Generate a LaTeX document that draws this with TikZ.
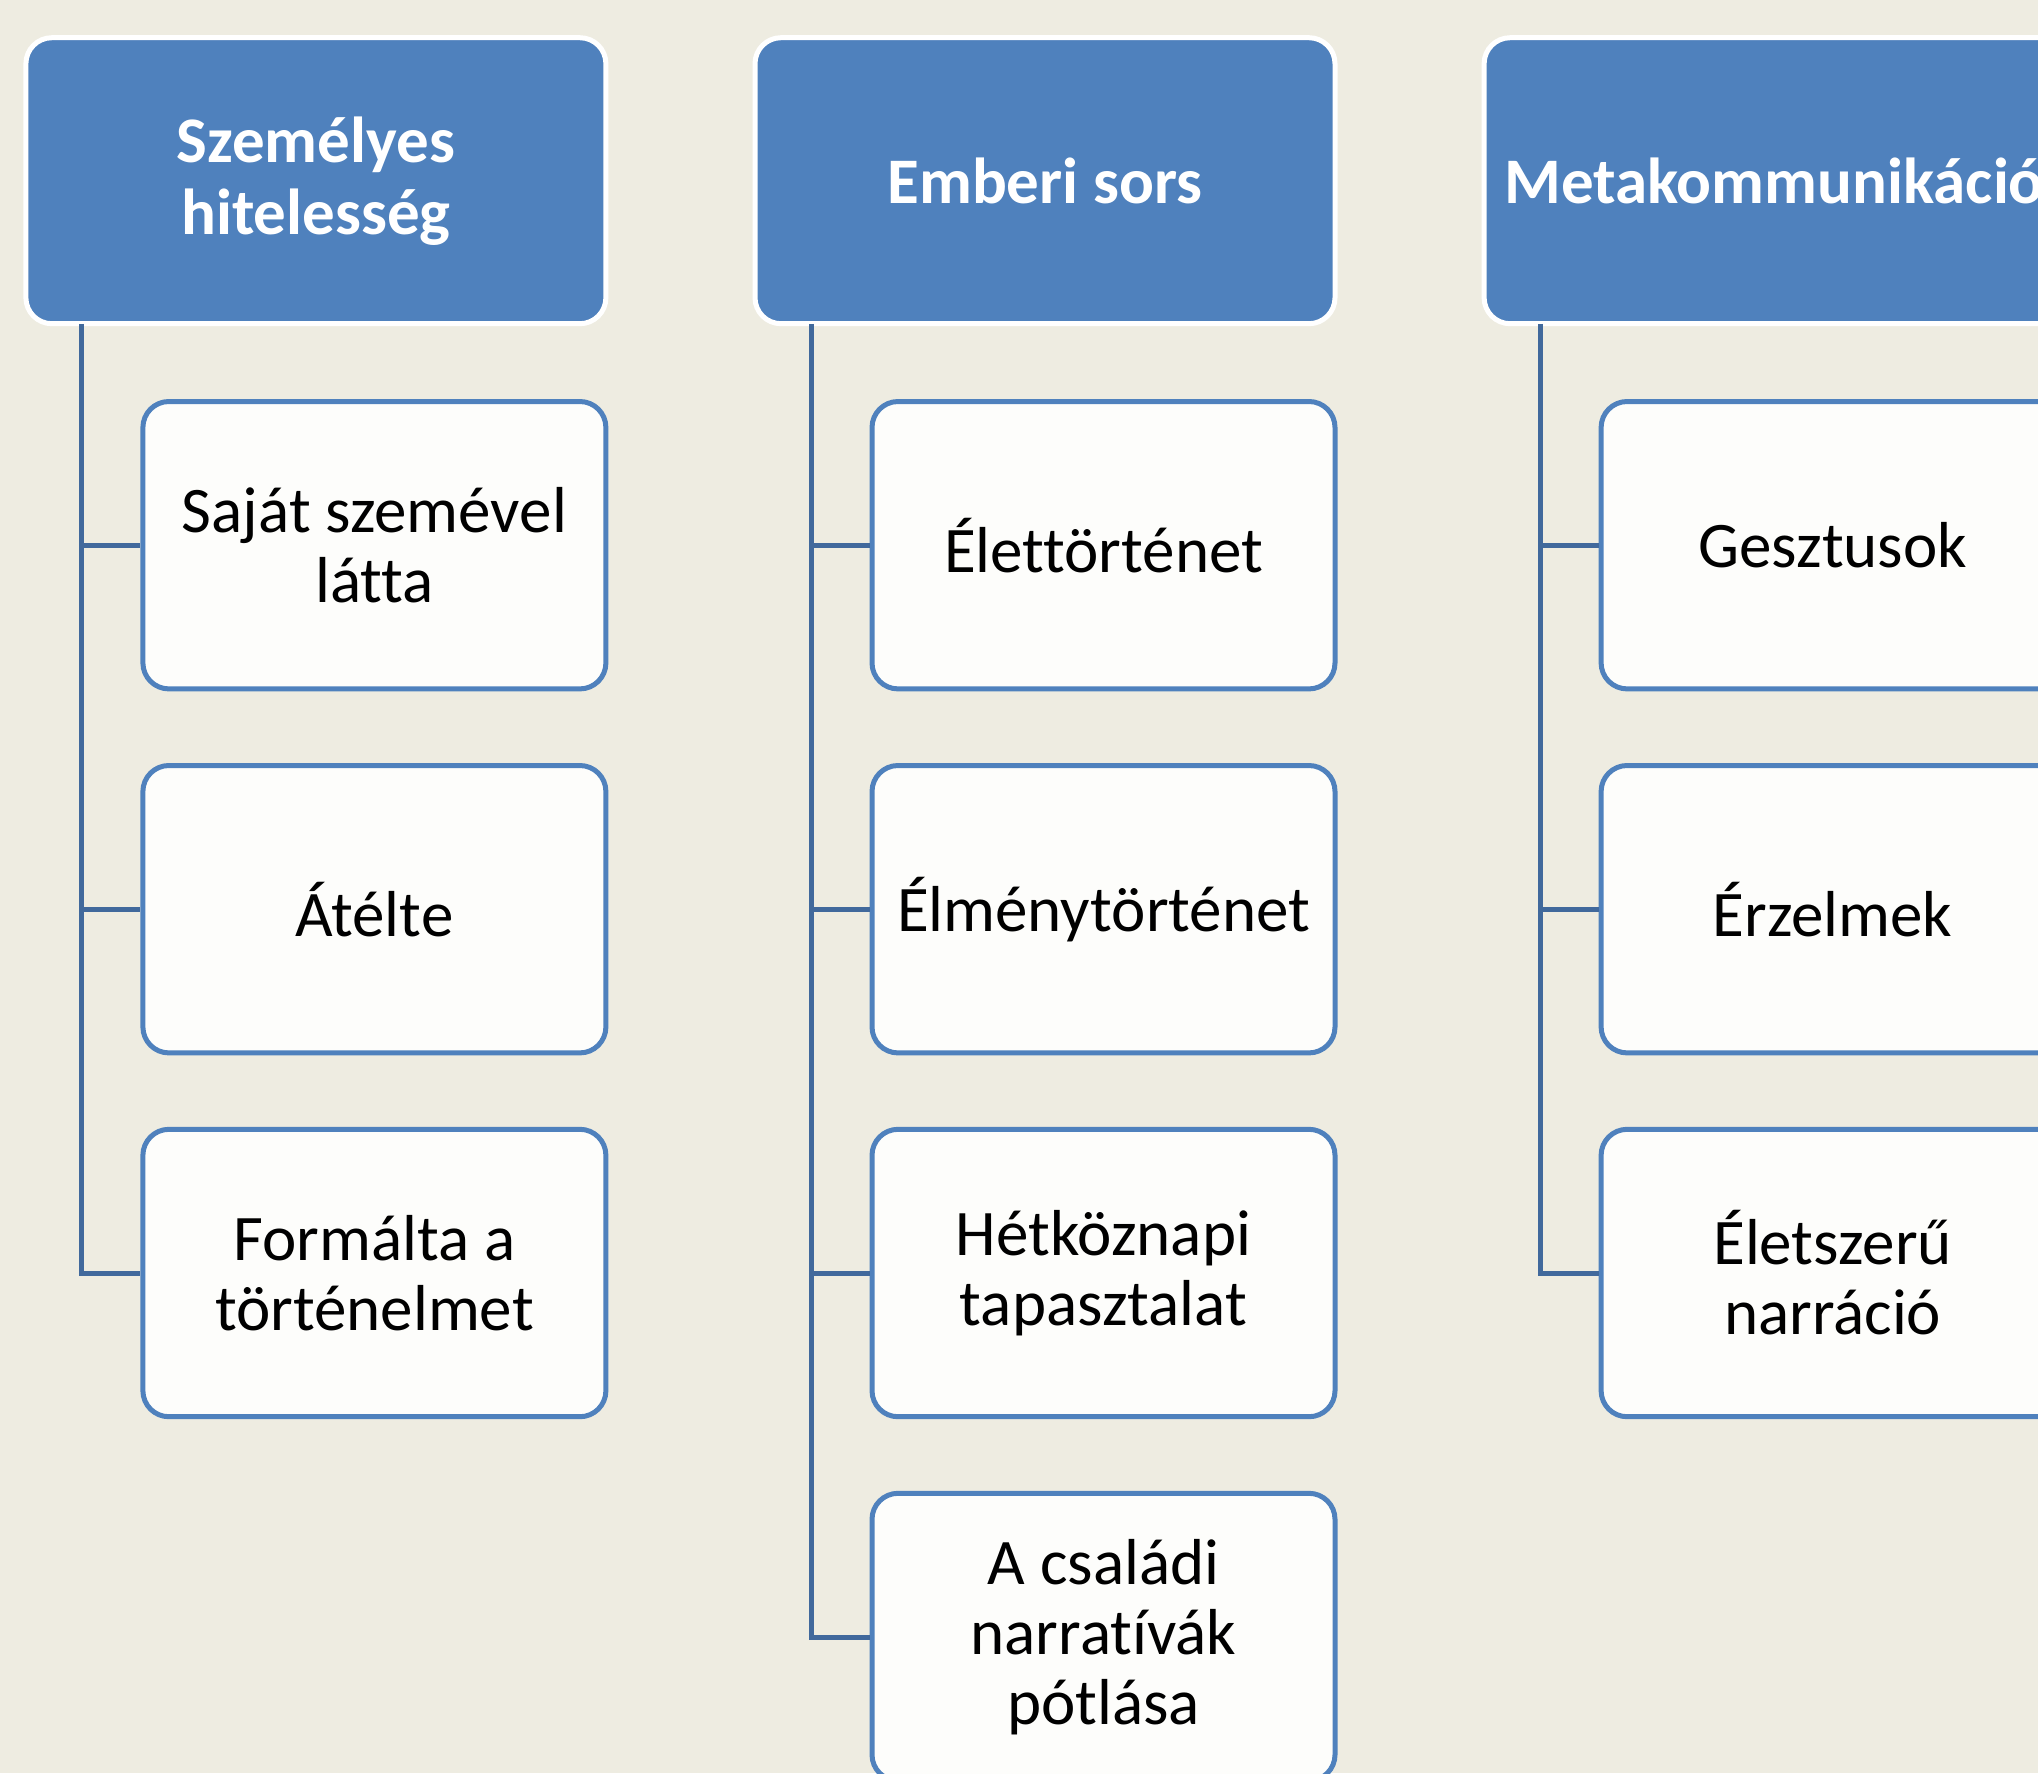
\documentclass[tikz,border=0pt]{standalone}
\usepackage{fontspec}
\setmainfont{Carlito}[Ligatures={NoCommon}]
\definecolor{bgc}{HTML}{EEECE1}
\definecolor{hdr}{HTML}{4F81BD}
\definecolor{cbord}{HTML}{4F81BD}
\definecolor{conn}{HTML}{41699C}
\definecolor{cfill}{HTML}{FDFDFB}
\tikzset{
  hdrbox/.style={draw=white, line width=2.5pt, fill=hdr, rounded corners=13pt,
    minimum width=290pt, minimum height=143pt, align=center, text=white,
    font=\fontsize{32.5}{36}\selectfont\bfseries, inner sep=0pt},
  childbox/.style={draw=cbord, line width=2.5pt, fill=cfill, rounded corners=13pt,
    minimum width=231.5pt, minimum height=143.7pt, align=center, text=black,
    font=\fontsize{32.5}{35}\selectfont, inner sep=0pt},
  connline/.style={draw=conn, line width=2.5pt}
}
\begin{document}
\begin{tikzpicture}[x=0.5pt,y=-0.5pt]
\fill[bgc] (0,0) rectangle (2038,1773);
\useasboundingbox (0,0) rectangle (2038,1773);
\clip (0,0) rectangle (2038,1773);
% headers
\node[hdrbox] (h1) at (315.9,180.7) {Személyes\\hitelesség};
\node[hdrbox] (h2) at (1045.0,180.7) {Emberi sors};
\node[hdrbox] (h3) at (1774.1,180.7) {Metakommunikáció};
% column 1
\node[childbox] (a1) at (374.4,545.2) {Saját szemével\\látta};
\node[childbox] (a2) at (374.4,909.2) {Átélte};
\node[childbox] (a3) at (374.4,1273.0) {Formálta a\\történelmet};
% column 2
\node[childbox] (b1) at (1103.5,545.2) {Élettörténet};
\node[childbox] (b2) at (1103.5,909.2) {Élménytörténet};
\node[childbox] (b3) at (1103.5,1273.0) {Hétköznapi\\tapasztalat};
\node[childbox] (b4) at (1103.5,1637.0) {A családi\\narratívák\\pótlása};
% column 3
\node[childbox] (c1) at (1832.6,545.2) {Gesztusok};
\node[childbox] (c2) at (1832.6,909.2) {Érzelmek};
\node[childbox] (c3) at (1832.6,1273.0) {Életszerű\\narráció};
% connector tops
\coordinate (t1) at ([xshift=29.25pt,yshift=1.2pt]h1.south west);
\coordinate (t2) at ([xshift=29.25pt,yshift=1.2pt]h2.south west);
\coordinate (t3) at ([xshift=29.25pt,yshift=1.2pt]h3.south west);
% connectors
\draw[connline, line join=miter] (t1) |- (a3.west);
\draw[connline] (a1.west -| t1) -- (a1.west);
\draw[connline] (a2.west -| t1) -- (a2.west);
\draw[connline, line join=miter] (t2) |- (b4.west);
\draw[connline] (b1.west -| t2) -- (b1.west);
\draw[connline] (b2.west -| t2) -- (b2.west);
\draw[connline] (b3.west -| t2) -- (b3.west);
\draw[connline, line join=miter] (t3) |- (c3.west);
\draw[connline] (c1.west -| t3) -- (c1.west);
\draw[connline] (c2.west -| t3) -- (c2.west);
\end{tikzpicture}
\end{document}
